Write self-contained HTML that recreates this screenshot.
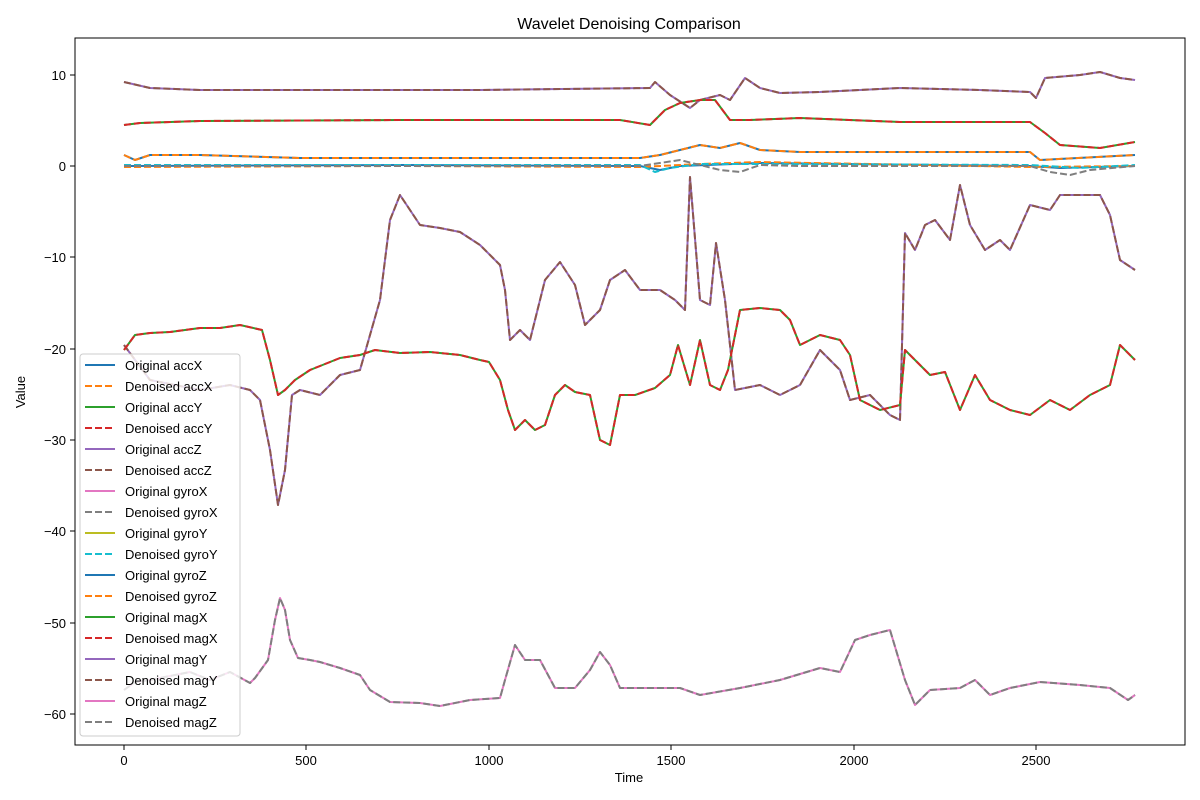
<!DOCTYPE html>
<html><head><meta charset="utf-8"><style>
body{margin:0;background:#fff;}
svg{display:block;font-family:"Liberation Sans","DejaVu Sans",sans-serif;}
</style></head><body>
<svg width="1200" height="800" viewBox="0 0 1200 800" xmlns="http://www.w3.org/2000/svg">
<rect width="1200" height="800" fill="#fff"/>
<text x="629" y="29" font-size="16" text-anchor="middle">Wavelet Denoising Comparison</text>
<g fill="none" stroke-width="2" stroke-linejoin="round">
<!-- top accZ ~9 -->
<polyline stroke="#9467bd" points="124,82 150,88 200,90 300,90 400,90 480,90 650,88 655,82 670,95 690,108 700,100 720,95 730,100 745,78 760,88 780,93 820,92 860,90 900,88 980,90 1030,92 1036,98 1045,78 1080,75 1100,72 1120,78 1135,80"/>
<polyline stroke="#8c564b" stroke-dasharray="7,3" points="124,82 150,88 200,90 300,90 400,90 480,90 650,88 655,82 670,95 690,108 700,100 720,95 730,100 745,78 760,88 780,93 820,92 860,90 900,88 980,90 1030,92 1036,98 1045,78 1080,75 1100,72 1120,78 1135,80"/>
<!-- accY ~5 -->
<polyline stroke="#2ca02c" points="124,125 140,123 200,121 400,120 620,120 650,125 665,110 680,103 700,100 715,100 730,120 750,120 800,118 900,122 1030,122 1045,133 1060,145 1100,148 1135,142"/>
<polyline stroke="#d62728" stroke-dasharray="7,3" points="124,125 140,123 200,121 400,120 620,120 650,125 665,110 680,103 700,100 715,100 730,120 750,120 800,118 900,122 1030,122 1045,133 1060,145 1100,148 1135,142"/>
<!-- accX ~1 -->
<polyline stroke="#1f77b4" points="124,155 135,160 150,155 200,155 300,158 500,158 640,158 660,155 680,150 700,145 720,148 740,143 760,150 800,152 1030,152 1040,160 1135,155"/>
<polyline stroke="#ff7f0e" stroke-dasharray="7,3" points="124,155 135,160 150,155 200,155 300,158 500,158 640,158 660,155 680,150 700,145 720,148 740,143 760,150 800,152 1030,152 1040,160 1135,155"/>
<!-- near zero -->
<polyline stroke="#1f77b4" points="124,166 400,165 640,166 660,170 680,166 760,163 1030,166 1060,168 1135,166"/>
<polyline stroke="#ff7f0e" stroke-dasharray="7,3" points="124,167 400,166 640,167 700,164 760,162 1030,167 1135,166"/>
<polyline stroke="#17becf" stroke-dasharray="7,3" points="124,165 400,165 640,165 655,172 670,168 700,164 760,164 1030,165 1080,168 1135,165"/>
<polyline stroke="#7f7f7f" stroke-dasharray="7,3" points="124,166 400,166 640,166 680,160 700,165 720,170 740,172 760,165 800,166 1030,166 1050,172 1070,175 1090,170 1135,166"/>
<!-- magY -->
<polyline stroke="#9467bd" points="124,345 150,380 200,390 230,385 250,390 260,400 270,450 278,505 285,470 292,395 300,390 320,395 340,375 360,370 380,300 390,220 400,195 410,210 420,225 440,228 460,232 480,245 500,265 505,290 510,340 520,330 530,340 545,280 560,262 575,285 585,325 600,310 610,280 625,270 640,290 660,290 675,300 685,310 690,177 700,300 710,305 716,243 725,300 735,390 760,385 780,395 800,385 820,350 840,370 850,400 870,395 890,415 900,420 905,233 915,250 925,225 935,220 950,240 960,185 970,225 985,250 1000,240 1010,250 1030,205 1050,210 1060,195 1080,195 1100,195 1110,215 1120,260 1135,270"/>
<polyline stroke="#8c564b" stroke-dasharray="7,3" points="124,345 150,380 200,390 230,385 250,390 260,400 270,450 278,505 285,470 292,395 300,390 320,395 340,375 360,370 380,300 390,220 400,195 410,210 420,225 440,228 460,232 480,245 500,265 505,290 510,340 520,330 530,340 545,280 560,262 575,285 585,325 600,310 610,280 625,270 640,290 660,290 675,300 685,310 690,177 700,300 710,305 716,243 725,300 735,390 760,385 780,395 800,385 820,350 840,370 850,400 870,395 890,415 900,420 905,233 915,250 925,225 935,220 950,240 960,185 970,225 985,250 1000,240 1010,250 1030,205 1050,210 1060,195 1080,195 1100,195 1110,215 1120,260 1135,270"/>
<!-- magX -->
<polyline stroke="#2ca02c" points="124,350 135,335 150,333 170,332 200,328 220,328 240,325 262,330 270,360 278,395 285,390 295,380 310,370 340,358 360,355 375,350 400,353 430,352 460,355 480,360 489,362 500,380 508,410 515,430 525,420 535,430 545,425 555,395 565,385 575,392 590,395 600,440 610,445 620,395 635,395 655,388 670,375 678,345 690,385 700,340 710,385 720,390 728,370 740,310 760,308 780,310 790,320 800,345 820,335 840,340 850,355 860,400 880,410 900,405 905,350 915,360 930,375 945,372 960,410 975,375 990,400 1010,410 1030,415 1050,400 1070,410 1090,395 1110,385 1120,345 1135,360"/>
<polyline stroke="#d62728" stroke-dasharray="7,3" points="124,350 135,335 150,333 170,332 200,328 220,328 240,325 262,330 270,360 278,395 285,390 295,380 310,370 340,358 360,355 375,350 400,353 430,352 460,355 480,360 489,362 500,380 508,410 515,430 525,420 535,430 545,425 555,395 565,385 575,392 590,395 600,440 610,445 620,395 635,395 655,388 670,375 678,345 690,385 700,340 710,385 720,390 728,370 740,310 760,308 780,310 790,320 800,345 820,335 840,340 850,355 860,400 880,410 900,405 905,350 915,360 930,375 945,372 960,410 975,375 990,400 1010,410 1030,415 1050,400 1070,410 1090,395 1110,385 1120,345 1135,360"/>
<!-- magZ -->
<polyline stroke="#e377c2" points="124,690 135,682 150,680 170,676 190,672 210,680 230,672 250,683 255,678 268,660 275,620 280,598 285,610 290,640 298,658 310,660 320,662 340,668 360,675 370,690 390,702 420,703 440,706 470,700 500,698 505,680 515,645 525,660 540,660 555,688 575,688 590,670 600,652 610,665 620,688 650,688 680,688 700,695 740,688 780,680 820,668 840,672 855,640 870,635 890,630 905,680 915,705 930,690 960,688 975,680 990,695 1010,688 1040,682 1080,685 1110,688 1128,700 1135,695"/>
<polyline stroke="#7f7f7f" stroke-dasharray="7,3" points="124,690 135,682 150,680 170,676 190,672 210,680 230,672 250,683 255,678 268,660 275,620 280,598 285,610 290,640 298,658 310,660 320,662 340,668 360,675 370,690 390,702 420,703 440,706 470,700 500,698 505,680 515,645 525,660 540,660 555,688 575,688 590,670 600,652 610,665 620,688 650,688 680,688 700,695 740,688 780,680 820,668 840,672 855,640 870,635 890,630 905,680 915,705 930,690 960,688 975,680 990,695 1010,688 1040,682 1080,685 1110,688 1128,700 1135,695"/>
</g>
<rect x="75" y="38" width="1110" height="707" fill="none" stroke="#000" stroke-width="1"/>
<g stroke="#000" stroke-width="1">
<line x1="124" y1="745" x2="124" y2="750"/><line x1="306" y1="745" x2="306" y2="750"/><line x1="489" y1="745" x2="489" y2="750"/><line x1="671" y1="745" x2="671" y2="750"/><line x1="854" y1="745" x2="854" y2="750"/><line x1="1036" y1="745" x2="1036" y2="750"/>
<line x1="70" y1="75" x2="75" y2="75"/><line x1="70" y1="166" x2="75" y2="166"/><line x1="70" y1="257" x2="75" y2="257"/><line x1="70" y1="349" x2="75" y2="349"/><line x1="70" y1="440" x2="75" y2="440"/><line x1="70" y1="531" x2="75" y2="531"/><line x1="70" y1="623" x2="75" y2="623"/><line x1="70" y1="714" x2="75" y2="714"/>
</g>
<g font-size="13" text-anchor="middle">
<text x="124" y="765">0</text><text x="306" y="765">500</text><text x="489" y="765">1000</text><text x="671" y="765">1500</text><text x="854" y="765">2000</text><text x="1036" y="765">2500</text>
<text x="629" y="782">Time</text>
</g>
<g font-size="13" text-anchor="end">
<text x="66" y="80">10</text><text x="66" y="171">0</text><text x="66" y="262">−10</text><text x="66" y="354">−20</text><text x="66" y="445">−30</text><text x="66" y="536">−40</text><text x="66" y="628">−50</text><text x="66" y="719">−60</text>
</g>
<text x="25" y="392" font-size="13" text-anchor="middle" transform="rotate(-90 25 392)">Value</text>
<rect x="80" y="354" width="160" height="382" rx="3" fill="#fff" fill-opacity="0.8" stroke="#ccc"/>
<g stroke-width="2" fill="none">
<line x1="85" y1="365" x2="115" y2="365" stroke="#1f77b4"/>
<line x1="85" y1="386" x2="115" y2="386" stroke="#ff7f0e" stroke-dasharray="7,3"/>
<line x1="85" y1="407" x2="115" y2="407" stroke="#2ca02c"/>
<line x1="85" y1="428" x2="115" y2="428" stroke="#d62728" stroke-dasharray="7,3"/>
<line x1="85" y1="449" x2="115" y2="449" stroke="#9467bd"/>
<line x1="85" y1="470" x2="115" y2="470" stroke="#8c564b" stroke-dasharray="7,3"/>
<line x1="85" y1="491" x2="115" y2="491" stroke="#e377c2"/>
<line x1="85" y1="512" x2="115" y2="512" stroke="#7f7f7f" stroke-dasharray="7,3"/>
<line x1="85" y1="533" x2="115" y2="533" stroke="#bcbd22"/>
<line x1="85" y1="554" x2="115" y2="554" stroke="#17becf" stroke-dasharray="7,3"/>
<line x1="85" y1="575" x2="115" y2="575" stroke="#1f77b4"/>
<line x1="85" y1="596" x2="115" y2="596" stroke="#ff7f0e" stroke-dasharray="7,3"/>
<line x1="85" y1="617" x2="115" y2="617" stroke="#2ca02c"/>
<line x1="85" y1="638" x2="115" y2="638" stroke="#d62728" stroke-dasharray="7,3"/>
<line x1="85" y1="659" x2="115" y2="659" stroke="#9467bd"/>
<line x1="85" y1="680" x2="115" y2="680" stroke="#8c564b" stroke-dasharray="7,3"/>
<line x1="85" y1="701" x2="115" y2="701" stroke="#e377c2"/>
<line x1="85" y1="722" x2="115" y2="722" stroke="#7f7f7f" stroke-dasharray="7,3"/>
</g>
<g font-size="13">
<text x="125" y="370">Original accX</text><text x="125" y="391">Denoised accX</text>
<text x="125" y="412">Original accY</text><text x="125" y="433">Denoised accY</text>
<text x="125" y="454">Original accZ</text><text x="125" y="475">Denoised accZ</text>
<text x="125" y="496">Original gyroX</text><text x="125" y="517">Denoised gyroX</text>
<text x="125" y="538">Original gyroY</text><text x="125" y="559">Denoised gyroY</text>
<text x="125" y="580">Original gyroZ</text><text x="125" y="601">Denoised gyroZ</text>
<text x="125" y="622">Original magX</text><text x="125" y="643">Denoised magX</text>
<text x="125" y="664">Original magY</text><text x="125" y="685">Denoised magY</text>
<text x="125" y="706">Original magZ</text><text x="125" y="727">Denoised magZ</text>
</g>
</svg>
</body></html>
